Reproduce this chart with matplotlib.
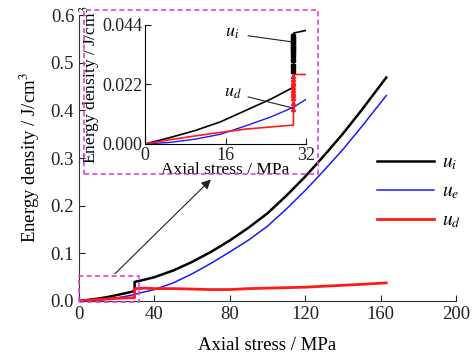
import matplotlib
matplotlib.use("Agg")
import matplotlib.pyplot as plt
from matplotlib.patches import Rectangle

plt.rcParams['font.family'] = ['Liberation Serif', 'DejaVu Serif']
plt.rcParams['mathtext.fontset'] = 'stix'
plt.rcParams['font.size'] = 12

# ---- data ----
# pre-peak part (0 - 29.5 MPa)
s_pre = [0, 5, 10, 15, 20, 25, 29.5]
ui_pre = [0, 0.0024, 0.0050, 0.0082, 0.0124, 0.0166, 0.0210]
ud_pre = [0, 0.0016, 0.0030, 0.0043, 0.0055, 0.0063, 0.0070]

# after the jump at 29.5 MPa
s_post = [29.5, 35, 40, 45, 50, 60, 70, 80, 90, 100, 110, 120, 130, 140, 150, 163]
ui_post = [0.040, 0.045, 0.050, 0.057, 0.064, 0.082, 0.103, 0.127, 0.154, 0.184,
           0.221, 0.261, 0.305, 0.351, 0.401, 0.469]
ud_post = [0.0257, 0.027, 0.026, 0.026, 0.026, 0.025, 0.024, 0.024, 0.026, 0.027,
           0.028, 0.029, 0.031, 0.033, 0.035, 0.038]

# elastic energy has no jump
s_e = [0, 5, 10, 15, 20, 25, 29.5, 32, 40, 50, 60, 70, 80, 90, 100, 110,
       120, 130, 140, 150, 163]
ue = [0, 0.0006, 0.0018, 0.0036, 0.0067, 0.0100, 0.0136, 0.0165, 0.024, 0.038,
      0.057, 0.079, 0.103, 0.128, 0.157, 0.193, 0.232, 0.274, 0.318, 0.366, 0.431]

# scatter of points along the jump (inset)
ui_jump = [0.027, 0.029, 0.031, 0.033, 0.034, 0.035, 0.036, 0.037, 0.038, 0.039, 0.040]
ud_jump = [0.013, 0.015, 0.017, 0.018, 0.019, 0.020, 0.021, 0.022, 0.023, 0.024, 0.025]

ui_x = s_pre + s_post
ui_y = ui_pre + ui_post
ud_x = s_pre + s_post
ud_y = ud_pre + ud_post

BLACK = 'black'
BLUE = '#1a1aff'
RED = '#ff1a1a'
MAG = '#e040e0'

fig = plt.figure(figsize=(4.74, 3.6), dpi=100)
ax = fig.add_axes([0.1667, 0.1639, 0.7954, 0.7944])

ax.plot(s_e, ue, color=BLUE, lw=1.1, label=r'$u_e$', zorder=3)
ax.plot(ui_x, ui_y, color=BLACK, lw=1.8, label=r'$u_i$', zorder=4)
ax.plot(ud_x, ud_y, color=RED, lw=2.0, label=r'$u_d$', zorder=5)

ax.set_xlim(0, 200)
ax.set_ylim(0, 0.6)
ax.set_xticks([0, 40, 80, 120, 160, 200])
ax.set_yticks([0.0, 0.1, 0.2, 0.3, 0.4, 0.5, 0.6])
ax.set_yticklabels(['0.0', '0.1', '0.2', '0.3', '0.4', '0.5', '0.6'])
ax.tick_params(direction='in', length=4, labelsize=13.5, colors='#222222')
for side in ['top', 'right']:
    ax.spines[side].set_visible(False)
for side in ['left', 'bottom']:
    ax.spines[side].set_color('#333333')
ax.set_xlabel('Axial stress / MPa', fontsize=13.5, labelpad=10)
ax.set_ylabel(r'Energy density / J/cm$^3$', fontsize=13.5, labelpad=6)

# legend with reordered handles
h, l = ax.get_legend_handles_labels()
order = [1, 0, 2]
ax.legend([h[i] for i in order], [l[i] for i in order], loc='upper left',
          bbox_to_anchor=(0.745, 0.575), frameon=False, fontsize=14,
          handlelength=2.9, labelspacing=0.55, handletextpad=0.4)

# dashed zoom box in main axes
ax.add_patch(Rectangle((0, -0.002), 32, 0.055, fill=False, ec=MAG, ls=(0, (3, 2)),
                       lw=1.2, clip_on=False, zorder=6))
ax.annotate('', xy=(71, 0.259), xytext=(18, 0.053),
            arrowprops=dict(arrowstyle='-|>', color='#222222', lw=0.8,
                            mutation_scale=14))

# dashed frame around the inset
fig.patches.append(Rectangle((0.177, 0.517), 0.494, 0.456, transform=fig.transFigure,
                             fill=False, ec=MAG, ls=(0, (3, 2)), lw=1.2))

# ---- inset ----
ins = fig.add_axes([0.306, 0.6, 0.3397, 0.3306])
ins.plot(s_e[:8], ue[:8], color=BLUE, lw=1.0)
ins.plot(s_pre + [29.5, 32], ui_pre + [0.041, 0.042], color=BLACK, lw=1.2)
ins.plot(s_pre + [29.5, 32], ud_pre + [0.0257, 0.0257], color=RED, lw=1.2)
ins.plot([29.5] * len(ui_jump), ui_jump, ls='none', marker='s', ms=2.5, color=BLACK)
ins.plot([29.5] * len(ud_jump), ud_jump, ls='none', marker='^', ms=3, color=RED)
ins.set_xlim(0, 32)
ins.set_ylim(0, 0.044)
ins.set_xticks([0, 16, 32])
ins.set_yticks([0.0, 0.022, 0.044])
ins.set_yticklabels(['0.000', '0.022', '0.044'])
ins.tick_params(direction='in', length=4, labelsize=13, pad=2, colors='#222222')
for side in ['top', 'right']:
    ins.spines[side].set_visible(False)
ins.patch.set_alpha(0)
ins.set_xlabel('Axial stress / MPa', fontsize=12.5, labelpad=-1)
ins.set_ylabel(r'Energy density / J/cm$^3$', fontsize=12.5, labelpad=0)

ins.text(17.3, 0.0414, r'$u_i$', fontsize=13, ha='center', va='center')
ins.plot([20.5, 29.4], [0.040, 0.0377], color='#222222', lw=0.8)
ins.text(17.5, 0.0192, r'$u_d$', fontsize=13, ha='center', va='center')
ins.plot([20.5, 29.4], [0.0174, 0.0133], color='#222222', lw=0.8)

fig.savefig('out.png', dpi=100)
